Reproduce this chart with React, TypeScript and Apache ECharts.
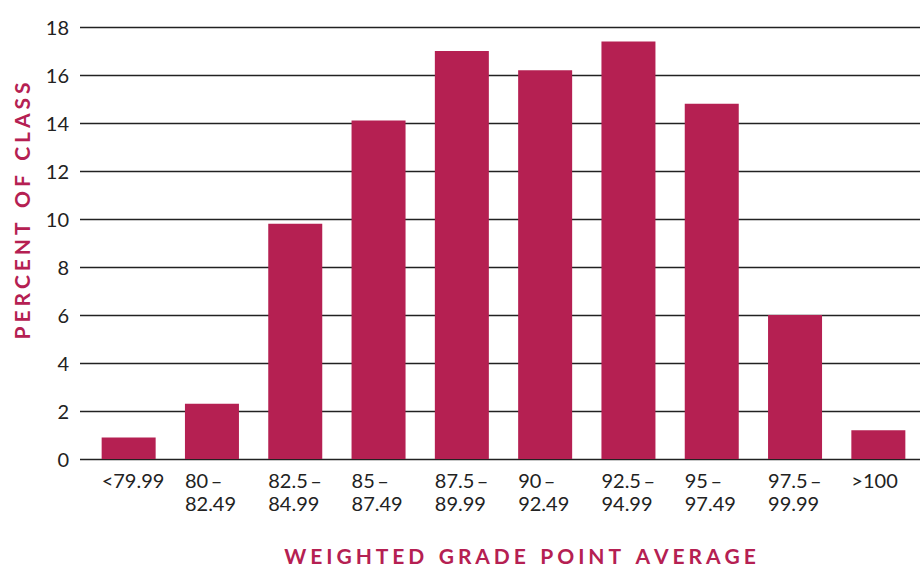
import React, { useEffect, useRef } from "react";
import * as echarts from "echarts";

const categories = [
  "<79.99",
  "80\u2009–\n82.49",
  "82.5\u2009–\n84.99",
  "85\u2009–\n87.49",
  "87.5\u2009–\n89.99",
  "90\u2009–\n92.49",
  "92.5\u2009–\n94.99",
  "95\u2009–\n97.49",
  "97.5\u2009–\n99.99",
  ">100",
];
const percentOfClass = [0.9, 2.3, 9.8, 14.1, 17.0, 16.2, 17.4, 14.8, 6.0, 1.2];
const yTicks = { min: 0, max: 18, interval: 2 };
const yTitle = "PERCENT OF CLASS";
const xTitle = "WEIGHTED GRADE POINT AVERAGE";

const CRIMSON = "#B52052";
const FONT = "Lato, 'Noto Sans', sans-serif";

function spaced(s: string) {
  return s
    .split("")
    .map((c) => (c === " " ? "\u2009\u2009\u200a" : c))
    .join("\u2009\u200a");
}

export default function App() {
  const ref = useRef<HTMLDivElement>(null);
  useEffect(() => {
    if (!ref.current) return;
    const chart = echarts.init(ref.current, undefined, { renderer: "svg" });
    const top = 27;
    const bottom = 108;
    chart.setOption({
      animation: false,
      grid: [
        { left: 80, right: 0, top, bottom },
        { left: 87, right: 0, top, bottom },
        { left: 60, right: 27, top, bottom },
      ],
      xAxis: [
        { type: "category", gridIndex: 0, data: categories, show: false },
        { type: "category", gridIndex: 1, data: categories, show: false },
        {
          type: "category",
          gridIndex: 2,
          data: categories,
          axisLine: { show: false },
          axisTick: { show: false },
          axisLabel: {
            align: "left",
            margin: 9,
            fontSize: 20,
            lineHeight: 23,
            color: "#222",
            fontFamily: FONT,
            interval: 0,
          },
        },
      ],
      yAxis: [
        {
          type: "value",
          gridIndex: 0,
          min: yTicks.min,
          max: yTicks.max,
          interval: yTicks.interval,
          axisLine: { show: false },
          axisTick: { show: false },
          axisLabel: { fontSize: 20, color: "#222", margin: 11, fontFamily: FONT },
          splitLine: { lineStyle: { color: "#222", width: 1.3 } },
        },
        {
          type: "value",
          gridIndex: 1,
          min: yTicks.min,
          max: yTicks.max,
          interval: yTicks.interval,
          show: false,
          splitLine: { show: false },
        },
        {
          type: "value",
          gridIndex: 2,
          min: yTicks.min,
          max: yTicks.max,
          interval: yTicks.interval,
          show: false,
          splitLine: { show: false },
        },
      ],
      series: [
        {
          type: "bar",
          xAxisIndex: 1,
          yAxisIndex: 1,
          data: percentOfClass,
          barWidth: 54,
          itemStyle: { color: CRIMSON },
          z: 5,
        },
      ],
      graphic: [
        {
          type: "text",
          x: 21,
          y: 211,
          rotation: Math.PI / 2,
          style: {
            text: spaced(yTitle),
            fontSize: 21,
            fontWeight: "bold",
            fill: CRIMSON,
            fontFamily: FONT,
            align: "center",
            verticalAlign: "middle",
          },
        },
        {
          type: "text",
          x: 520,
          y: 555,
          style: {
            text: spaced(xTitle),
            fontSize: 21,
            fontWeight: "bold",
            fill: CRIMSON,
            fontFamily: FONT,
            align: "center",
            verticalAlign: "middle",
          },
        },
      ],
    });
    return () => chart.dispose();
  }, []);
  return (
    <div
      ref={ref}
      style={{ width: 920, height: 567, position: "absolute", left: 0, top: 0 }}
    />
  );
}
